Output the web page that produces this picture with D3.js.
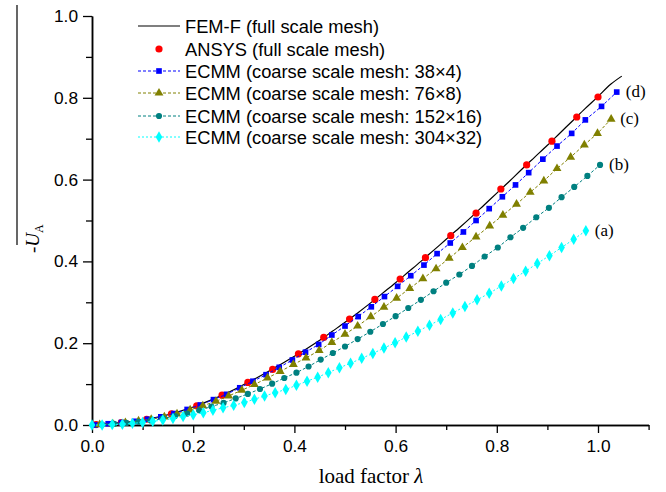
<!DOCTYPE html>
<html><head><meta charset="utf-8">
<script src="https://cdn.jsdelivr.net/npm/d3@7"></script>
<style>body{margin:0;background:#fff}svg{display:block}</style>
</head><body>
<svg id="c" width="666" height="492"></svg>
<script>
const femX=[0,0.025,0.05,0.075,0.1,0.125,0.15,0.175,0.2,0.225,0.25,0.275,0.3,0.325,0.35,0.375,0.4,0.425,0.45,0.475,0.5,0.525,0.55,0.575,0.6,0.625,0.65,0.675,0.7,0.725,0.75,0.775,0.8,0.825,0.85,0.875,0.9,0.925,0.95,0.975,1.0,1.025,1.047];
const femY=[0,0.002,0.005,0.008,0.012,0.018,0.025,0.034,0.044,0.056,0.069,0.083,0.099,0.115,0.132,0.150,0.168,0.187,0.207,0.229,0.251,0.274,0.298,0.323,0.348,0.374,0.400,0.427,0.454,0.481,0.509,0.538,0.567,0.596,0.626,0.655,0.684,0.714,0.744,0.774,0.803,0.833,0.853];
const ansysX=[0.008,0.058,0.108,0.157,0.207,0.257,0.308,0.357,0.408,0.458,0.509,0.559,0.609,0.659,0.709,0.759,0.808,0.859,0.909,0.958,1.0];
const ansysY=[0.001,0.006,0.014,0.027,0.047,0.073,0.104,0.136,0.174,0.214,0.259,0.307,0.357,0.409,0.463,0.518,0.577,0.636,0.694,0.753,0.802];
const dX=[0.006,0.032,0.058,0.084,0.110,0.136,0.162,0.188,0.214,0.240,0.266,0.292,0.318,0.344,0.370,0.396,0.422,0.448,0.474,0.500,0.526,0.552,0.578,0.604,0.630,0.656,0.682,0.708,0.734,0.759,0.785,0.811,0.837,0.863,0.891,0.919,0.948,0.975,1.007,1.037];
const dY=[0.000,0.003,0.006,0.009,0.014,0.020,0.028,0.038,0.049,0.062,0.075,0.091,0.107,0.123,0.141,0.159,0.178,0.197,0.220,0.242,0.265,0.289,0.314,0.339,0.365,0.391,0.419,0.445,0.472,0.500,0.529,0.558,0.587,0.617,0.650,0.682,0.713,0.746,0.779,0.814];
const cX=[0.015,0.041,0.066,0.092,0.117,0.143,0.168,0.194,0.219,0.245,0.270,0.296,0.321,0.347,0.372,0.398,0.423,0.449,0.474,0.500,0.525,0.551,0.577,0.602,0.628,0.654,0.680,0.706,0.732,0.759,0.786,0.812,0.839,0.866,0.893,0.919,0.946,0.973,0.999,1.026];
const cY=[0.001,0.003,0.006,0.010,0.014,0.020,0.027,0.037,0.047,0.058,0.071,0.085,0.099,0.115,0.131,0.148,0.164,0.182,0.202,0.222,0.242,0.265,0.288,0.310,0.334,0.358,0.382,0.408,0.434,0.460,0.487,0.513,0.540,0.569,0.597,0.627,0.655,0.685,0.713,0.748];
const bX=[0.020,0.044,0.068,0.092,0.116,0.140,0.164,0.188,0.212,0.236,0.260,0.284,0.308,0.332,0.356,0.380,0.404,0.428,0.452,0.476,0.500,0.525,0.550,0.575,0.600,0.625,0.650,0.675,0.700,0.726,0.751,0.776,0.802,0.827,0.852,0.878,0.903,0.928,0.953,0.979,1.004];
const bY=[0.001,0.003,0.005,0.008,0.011,0.016,0.022,0.028,0.036,0.045,0.054,0.065,0.076,0.088,0.101,0.115,0.128,0.143,0.160,0.176,0.192,0.210,0.228,0.247,0.266,0.286,0.306,0.327,0.348,0.368,0.389,0.412,0.434,0.459,0.482,0.508,0.531,0.557,0.582,0.609,0.636];
const aX=[0.000,0.020,0.040,0.060,0.080,0.100,0.120,0.140,0.160,0.180,0.200,0.220,0.239,0.259,0.280,0.301,0.321,0.341,0.362,0.383,0.404,0.425,0.446,0.467,0.489,0.511,0.533,0.555,0.577,0.599,0.621,0.644,0.667,0.689,0.713,0.737,0.761,0.785,0.809,0.833,0.857,0.880,0.904,0.928,0.952,0.976];
const aY=[0.000,0.000,0.001,0.002,0.004,0.006,0.009,0.012,0.016,0.021,0.025,0.030,0.036,0.042,0.048,0.055,0.063,0.071,0.079,0.087,0.097,0.107,0.117,0.128,0.140,0.151,0.163,0.175,0.188,0.201,0.215,0.229,0.244,0.258,0.274,0.290,0.306,0.322,0.340,0.358,0.376,0.395,0.414,0.434,0.454,0.475];

const legendLabels=["FEM-F (full scale mesh)","ANSYS (full scale mesh)","ECMM (coarse scale mesh: 38\u00d74)","ECMM (coarse scale mesh: 76\u00d78)","ECMM (coarse scale mesh: 152\u00d716)","ECMM (coarse scale mesh: 304\u00d732)"];
const curveTags=["(d)","(c)","(b)","(a)"];
const xMajor=[0,0.2,0.4,0.6,0.8,1.0];
const xMinor=[0.1,0.3,0.5,0.7,0.9,1.1];
const yMajor=[0,0.2,0.4,0.6,0.8,1.0];
const yMinor=[0.1,0.3,0.5,0.7,0.9];

const svg=d3.select("#c");
const x=d3.scaleLinear().domain([0,1.1]).range([92,648.6]);
const y=d3.scaleLinear().domain([0,1]).range([425,16]);
const fmt=d3.format(".1f");
const sans="'Liberation Sans', Arial, sans-serif";
const serif="'Liberation Serif', 'Times New Roman', serif";

function styleAxis(g){g.select(".domain").attr("stroke","#000").attr("stroke-width",1.5);
  g.selectAll(".tick line").attr("stroke","#000").attr("stroke-width",1.3);
  g.selectAll("text").attr("font-family",sans).attr("font-size",17.3).attr("fill","#000");}
svg.append("g").attr("transform","translate(0,425)")
  .call(d3.axisBottom(x).tickValues(xMinor).tickSize(5).tickFormat("").tickSizeOuter(0)).call(styleAxis);
svg.append("g").attr("transform","translate(0,425)")
  .call(d3.axisBottom(x).tickValues(xMajor).tickSize(8).tickPadding(7).tickFormat(fmt).tickSizeOuter(0)).call(styleAxis);
svg.append("g").attr("transform","translate(92,0)")
  .call(d3.axisLeft(y).tickValues(yMinor).tickSize(6).tickFormat("").tickSizeOuter(0)).call(styleAxis);
svg.append("g").attr("transform","translate(92,0)")
  .call(d3.axisLeft(y).tickValues(yMajor).tickSize(9).tickPadding(5).tickFormat(fmt).tickSizeOuter(0)).call(styleAxis);

const xl=svg.append("text").attr("x",371).attr("y",483).attr("text-anchor","middle")
  .attr("font-family",serif).attr("font-size",21);
xl.append("tspan").text("load factor ");
xl.append("tspan").attr("font-style","italic").text("\u03bb");
const yl=svg.append("text").attr("transform","translate(39,253) rotate(-90)")
  .attr("font-family",serif).attr("font-size",19);
yl.append("tspan").text("-");
yl.append("tspan").attr("font-style","italic").text("U");
yl.append("tspan").attr("font-size",12).attr("dy",4).text("A");
svg.append("line").attr("x1",17).attr("x2",17).attr("y1",5).attr("y2",245).attr("stroke","#000").attr("stroke-width",1.2);

const zip=(xs,ys)=>xs.map((v,i)=>[v,ys[i]]);
const line=d3.line().x(d=>x(d[0])).y(d=>y(d[1]));
const series=[
 {data:zip(dX,dY),color:"#0000ff",dash:"3,2",sym:d3.symbolSquare,size:32},
 {data:zip(cX,cY),color:"#808000",dash:"3,2",sym:d3.symbolTriangle,size:34},
 {data:zip(bX,bY),color:"#008080",dash:"3,2",sym:d3.symbolCircle,size:30},
 {data:zip(aX,aY),color:"#00ffff",dash:"2,2",sym:d3.symbolDiamond,size:38}
];
svg.append("path").datum(zip(femX,femY)).attr("d",line.curve(d3.curveMonotoneX))
  .attr("fill","none").attr("stroke","#000").attr("stroke-width",1.2);
line.curve(d3.curveLinear);
svg.append("g").selectAll("circle").data(zip(ansysX,ansysY)).join("circle")
  .attr("cx",d=>x(d[0])).attr("cy",d=>y(d[1])).attr("r",3.6).attr("fill","#ff0000");
series.forEach((s,k)=>{
  svg.append("path").datum(s.data).attr("d",line).attr("fill","none")
    .attr("stroke",s.color).attr("stroke-width",1).attr("stroke-dasharray",s.dash);
  svg.append("g").selectAll("path").data(s.data).join("path")
    .attr("transform",d=>`translate(${x(d[0])},${y(d[1])})`)
    .attr("d",d3.symbol().type(s.sym).size(s.size)).attr("fill",s.color);
  const last=s.data[s.data.length-1];
  svg.append("text").attr("x",x(last[0])+9).attr("y",y(last[1])+5)
    .attr("font-family",serif).attr("font-size",17).text(curveTags[k]);
});

const rowY=[26,49,71,93,116,137];
const lg=svg.append("g");
legendLabels.forEach((t,i)=>{
  const yy=rowY[i];
  if(i===0){lg.append("line").attr("x1",138).attr("x2",180).attr("y1",yy).attr("y2",yy).attr("stroke","#000").attr("stroke-width",1.2);}
  else if(i===1){lg.append("circle").attr("cx",159).attr("cy",yy).attr("r",3.6).attr("fill","#ff0000");}
  else{const s=series[i-2];
    lg.append("line").attr("x1",138).attr("x2",180).attr("y1",yy).attr("y2",yy).attr("stroke",s.color).attr("stroke-width",1).attr("stroke-dasharray",s.dash);
    lg.append("path").attr("transform",`translate(159,${yy})`).attr("d",d3.symbol().type(s.sym).size(s.size)).attr("fill",s.color);}
  lg.append("text").attr("x",185).attr("y",yy+6.5).attr("font-family",sans).attr("font-size",18.3).text(t);
});
</script>
</body></html>
